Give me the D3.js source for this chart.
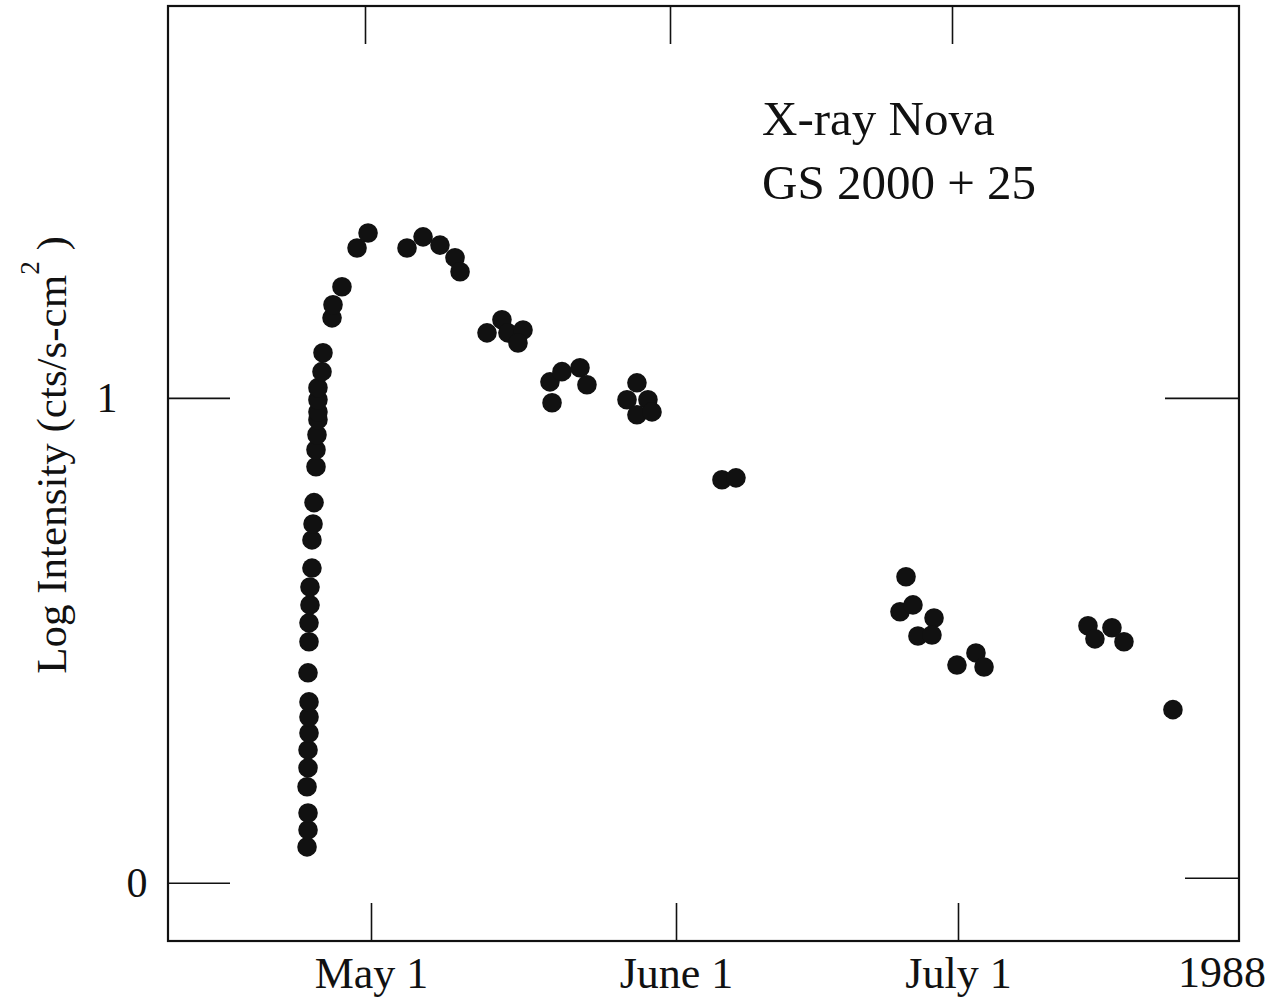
<!DOCTYPE html>
<html>
<head>
<meta charset="utf-8">
<script src="https://cdn.jsdelivr.net/npm/d3@7"></script>
<style>
  html, body { margin: 0; padding: 0; background: #fff; }
  svg { display: block; }
  text { font-family: "Liberation Serif", "Times New Roman", serif; fill: #111; }
</style>
</head>
<body>
<svg id="chart" width="1276" height="1002"></svg>
<script>
// Days since 1988 May 1 (0h) of each observation
const days = [
  -6.50, -6.40, -6.40, -6.50, -6.40, -6.40, -6.30, -6.30, -6.30, -6.40,
  -6.30, -6.30, -6.20, -6.20, -6.00, -6.00, -5.89, -5.79, -5.59, -5.59,
  -5.49, -5.39, -5.39, -5.39, -5.39, -4.98, -4.88, -3.96, -3.86, -2.95,
  -1.42, -0.30,
  3.66, 5.29, 7.01, 8.54, 9.05,
  11.79, 13.31, 13.92, 15.45, 14.94,
  18.19, 19.41, 21.24, 21.95, 18.40,
  27.03, 26.02, 28.15, 27.03, 28.56,
  35.89, 37.38,
  55.47, 54.83, 56.21, 58.45, 56.74, 58.23,
  60.89, 62.91, 63.77,
  74.83, 75.57, 77.38, 78.66,
  83.87
];
// Log intensity (cts/s-cm^2)
const logIntensity = [
  0.074, 0.109, 0.144, 0.198, 0.237, 0.274, 0.309, 0.342, 0.373, 0.433,
  0.497, 0.536, 0.573, 0.610, 0.649, 0.707, 0.740, 0.784, 0.858, 0.893,
  0.924, 0.955, 0.971, 0.996, 1.021, 1.054, 1.093, 1.165, 1.192, 1.229,
  1.309, 1.340,
  1.309, 1.332, 1.315, 1.289, 1.260,
  1.134, 1.161, 1.134, 1.140, 1.113,
  1.033, 1.054, 1.062, 1.027, 0.990,
  1.031, 0.996, 0.996, 0.965, 0.971,
  0.831, 0.835,
  0.631, 0.559, 0.573, 0.546, 0.509, 0.511,
  0.449, 0.474, 0.445,
  0.530, 0.503, 0.526, 0.497,
  0.357
];
const xTickDays = [0, 31, 61];
const xTickLabels = ["May 1", "June 1", "July 1"];
const yTickValues = [0, 1];
const yTickLabels = ["0", "1"];
const yearLabel = "1988";
const titleLines = ["X-ray Nova", "GS 2000 + 25"];

const svg = d3.select("#chart");
const L = 168, R = 1239, T = 6, B = 941;

// piecewise-linear time axis (as printed)
const x = d3.scaleLinear().domain([-20.63, 0, 31, 61, 90.9]).range([L, 371, 676, 958, R]);
const y = d3.scaleLinear().domain([-0.12, 1.808]).range([B, T]);

// bottom axis (ticks inward, labels below)
const gB = svg.append("g").attr("transform", `translate(0,${B})`)
  .call(d3.axisBottom(x).tickValues(xTickDays).tickSizeInner(-38).tickSizeOuter(0)
    .tickPadding(16).tickFormat((d, i) => xTickLabels[i]));
gB.select(".domain").remove();
gB.selectAll(".tick line").attr("stroke", "#111").attr("stroke-width", 1.6);
gB.selectAll(".tick text").attr("font-size", 44).attr("font-family", "Liberation Serif").attr("fill", "#111");

// top axis ticks
const gT = svg.append("g").attr("transform", `translate(-6,${T})`)
  .call(d3.axisTop(x).tickValues(xTickDays).tickSizeInner(-38).tickSizeOuter(0).tickFormat(""));
gT.select(".domain").remove();
gT.selectAll(".tick line").attr("stroke", "#111").attr("stroke-width", 1.6);

// left axis
const gL = svg.append("g").attr("transform", `translate(${L},0)`)
  .call(d3.axisLeft(y).tickValues(yTickValues).tickSizeInner(-62).tickSizeOuter(0)
    .tickFormat((d, i) => yTickLabels[i]));
gL.select(".domain").remove();
gL.selectAll(".tick line").attr("stroke", "#111").attr("stroke-width", 1.6);
gL.selectAll(".tick text").attr("font-size", 42).attr("font-family", "Liberation Serif").attr("fill", "#111")
  .attr("text-anchor", "middle")
  .attr("x", d => d === 1 ? -61 : -31);

// right axis
const gR = svg.append("g").attr("transform", `translate(${R},0)`)
  .call(d3.axisRight(y).tickValues(yTickValues).tickSizeOuter(0).tickFormat(""));
gR.select(".domain").remove();
gR.selectAll(".tick line").attr("stroke", "#111").attr("stroke-width", 1.6)
  .attr("x2", d => d === 1 ? -74 : -54)
  .attr("transform", d => d === 0 ? "translate(0,-5)" : null);

// frame
svg.append("rect").attr("x", L).attr("y", T).attr("width", R - L).attr("height", B - T)
  .attr("fill", "none").attr("stroke", "#111").attr("stroke-width", 2.2);

// year label
svg.append("text").attr("x", 1222).attr("y", B).attr("dy", "1.04em")
  .attr("text-anchor", "middle").attr("font-size", 44).text(yearLabel);

// y axis label
const yl = svg.append("text").attr("transform", "translate(66,455) rotate(-90)")
  .attr("text-anchor", "middle").attr("font-size", 43);
yl.append("tspan").text("Log Intensity (cts/s-cm");
yl.append("tspan").attr("dy", -27).attr("font-size", 27).text("2");
yl.append("tspan").attr("dy", 27).text(" )");

// title
svg.selectAll("text.title").data(titleLines).join("text").attr("class", "title")
  .attr("x", 762).attr("y", (d, i) => 135 + i * 64).attr("font-size", 49).text(d => d);

// points
svg.append("g").selectAll("circle").data(days).join("circle")
  .attr("cx", d => x(d)).attr("cy", (d, i) => y(logIntensity[i]))
  .attr("r", 9.8).attr("fill", "#111");
</script>
</body>
</html>
